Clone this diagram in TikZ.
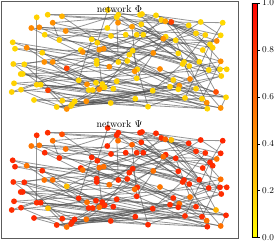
\documentclass[tikz,border=0pt]{standalone}
\usepackage{tikz}
\usetikzlibrary{calc}
\definecolor{framegray}{HTML}{5C5C5C}
\definecolor{edgegray}{HTML}{505050}
\tikzset{
  netdot/.style={circle, inner sep=0pt, minimum size=5.8pt, draw=none},
  netedge/.style={draw=edgegray, line width=0.8pt, opacity=0.6},
  nettitle/.style={font=\normalsize, inner sep=0pt},
  ticklabel/.style={font=\small, anchor=west, inner sep=0pt},
}
% node positions (x/y in px, colour value in percent)
\newcommand\netnodes{107.7/10/18, 118.3/14.7/16, 47.7/14.7/18, 140/14.7/16, 142/14/18, 156/15.3/16,
  62/16.3/30, 36.7/17.3/18, 116.7/17.3/16, 161.3/20/18, 165.3/21.3/36, 171.3/22/75,
  200.7/22/16, 52.7/22.7/44, 118/22.7/44, 222.7/22.7/15, 141.3/24.3/18, 188.7/25.3/16,
  132/26.7/38, 39.3/27.3/46, 31.3/28/46, 107.3/28/16, 65.7/31/44, 196/33.3/18,
  44.7/34.7/16, 125.7/34.7/16, 136.7/34.7/18, 143.3/34.7/16, 205.3/35/18, 220.7/35.3/16,
  111/36/18, 165.7/36.7/16, 163.3/38.7/42, 91.7/39.3/16, 59.3/40/18, 175.7/40.3/16,
  216.7/41/46, 12.7/42.3/16, 97.3/42.7/18, 210/44.3/16, 26.7/47.7/46, 212.7/47.7/18,
  15/48.7/16, 103.7/48.7/44, 99.3/49.7/42, 80.7/50/16, 202.7/50/18, 132.7/50.7/16,
  82.7/52/44, 42.3/52.7/18, 153.3/53/44, 178.3/53.3/16, 129.3/54.7/18, 96.7/60.7/16,
  127.3/61/18, 220.7/61.3/44, 199.3/61.7/16, 44.3/62/44, 52.7/62/44, 118.3/62/18,
  184/62/16, 13.3/64/18, 96.7/64/16, 182.7/64/18, 24.3/64.3/16, 189.3/66/18,
  109.3/66.7/44, 66.7/68.3/75, 160/69/46, 137.3/69.3/18, 220/69.3/16, 226.7/69.3/18,
  208.7/70/16, 134.7/71.3/42, 20.7/74/18, 22.7/74/16, 221.3/76/18, 136.7/78.3/16,
  190/79/46, 173.3/80/18, 78.7/80.3/16, 116.7/81.3/18, 96/82.7/16, 14/83.3/18,
  102.3/84/16, 87/84.3/44, 36.7/84.7/18, 40.7/84.7/16, 179.3/85.7/42, 170/86.7/18,
  102/87.3/16, 104.7/87.3/18, 113.3/88.7/16, 196/88.7/18, 178.3/89.3/16, 99.3/89.3/44,
  21/89.7/18, 88.7/90/16, 92.7/90/18, 48/90.3/75, 152.7/90.7/16, 11.7/92/18,
  216/92/70, 226/97.3/16, 185/98/18, 135.3/98.7/16, 202/98.7/18, 34/100/16,
  62.3/100.7/18, 74.7/101.3/16, 86.3/101.3/44, 206.7/102.7/44, 110.7/103/18, 72/104.3/16,
  71/106/18, 148/106.7/16, 56.7/107/18, 220.7/108/44, 207.3/108.7/16, 66.7/109/44}
% edges (same for both networks)
\newcommand\netedges{3/4, 3/12, 7/18, 8/87, 14/9, 2/36, 4/24, 5/13, 6/40, 10/29, 11/57, 12/16,
  13/30, 9/22, 15/47, 17/52, 18/56, 19/33, 20/26, 21/31, 23/2, 25/37, 26/73, 27/42,
  28/66, 29/61, 30/47, 22/35, 31/64, 32/48, 34/71, 35/52, 36/79, 38/50, 38/55, 39/1,
  40/105, 41/60, 43/51, 44/80, 45/57, 46/69, 47/77, 48/116, 49/28, 50/83, 51/72, 53/62,
  54/24, 55/89, 56/107, 57/103, 58/74, 59/6, 60/94, 61/101, 62/92, 63/32, 64/118, 65/44,
  66/112, 67/10, 68/27, 69/104, 70/46, 71/79, 73/90, 74/100, 75/91, 76/70, 77/95, 78/19,
  80/113, 81/34, 82/104, 83/36, 84/106, 85/110, 86/59, 87/99, 88/96, 89/111, 90/117, 91/119,
  92/53, 93/68, 94/116, 95/108, 96/114, 97/63, 98/56, 99/13, 100/120, 101/109, 102/54, 102/78,
  103/82, 104/118, 105/115, 106/88, 107/111, 108/113, 109/119, 110/116, 112/65, 113/117, 114/106, 115/77,
  118/93, 119/97, 120/101, 84/71, 62/88, 43/67, 65/86, 33/78, 24/20, 16/40, 42/73, 37/45,
  52/4, 11/27, 6/18, 45/18, 63/79, 75/82, 60/9, 12/57, 104/95, 35/14, 97/120, 111/92,
  1/30, 2/57, 5/37, 9/66, 14/31, 17/73, 20/60, 21/54, 25/44, 34/77, 39/91, 41/98,
  46/103, 50/101, 53/107, 58/93, 65/109, 67/119, 70/112, 76/116, 81/94, 85/118, 87/110, 88/105,
  99/104, 100/113, 108/120, 114/107, 117/95, 10/42, 7/55, 23/64, 26/56, 36/57}

\begin{document}
\begin{tikzpicture}[x=1pt, y=-1pt]
  \useasboundingbox (0,0) rectangle (277,242);

  % network Phi
  \foreach \x/\y/\v [count=\i] in \netnodes {
    \coordinate (c\i) at (\x,\y);
  }
  \foreach \a/\b in \netedges {
    \draw[netedge] (c\a) -- (c\b);
  }
  \foreach \x/\y/\v [count=\i] in \netnodes {
    \node[netdot, fill=red!\v!yellow] (p\i) at (\x,\y) {};
  }
  \node[nettitle] (phititle) at (119.5,9) {network $\Phi$};

  % network Psi (same layout, complementary values)
  \foreach \x/\y/\v [count=\i] in \netnodes {
    \coordinate (d\i) at (\x,\y+118);
  }
  \foreach \a/\b in \netedges {
    \draw[netedge] (d\a) -- (d\b);
  }
  \foreach \x/\y/\v [count=\i] in \netnodes {
    \pgfmathtruncatemacro\qv{100-\v}
    \node[netdot, fill=red!\qv!yellow] (q\i) at (\x,\y+118) {};
  }
  \node[nettitle] (psititle) at (119.5,124) {network $\Psi$};

  % frame
  \draw[framegray, line width=1pt] (1.2,1.2) rectangle (238.3,238);

  % colour bar
  \shade[top color=red, bottom color=yellow] (252,3) rectangle (257.5,237.7);
  \draw[black, line width=0.6pt] (252,3) rectangle (257.5,237.7);
  \foreach \t [count=\k from 0] in {0.0,0.2,0.4,0.6,0.8,1.0} {
    \coordinate (tick\k) at (257.5,{237.7-46.94*\k});
    \draw[black, line width=0.6pt] (tick\k) -- ++(2.8,0);
    \node[ticklabel] (lab\k) at ($(tick\k)+(4.5,0)$) {\t};
  }
\end{tikzpicture}
\end{document}
